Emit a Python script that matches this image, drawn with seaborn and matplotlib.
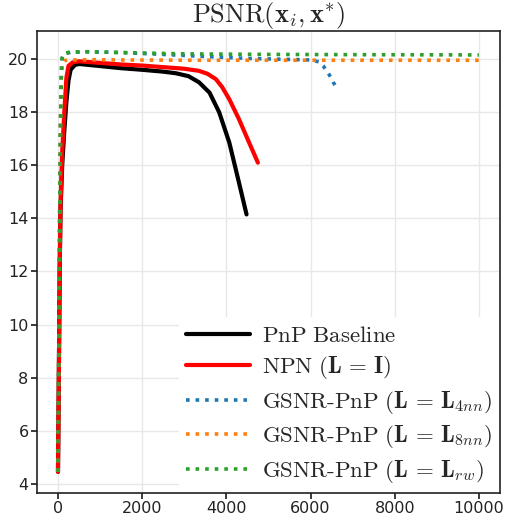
import matplotlib
matplotlib.use("Agg")
import matplotlib.pyplot as plt
import seaborn as sns
import numpy as np
import pandas as pd

# ---- data ----
pnp_x = [0, 20, 40, 60, 100, 150, 200, 250, 300, 400, 500, 750, 1000, 1500, 2000,
         2500, 2800, 3100, 3350, 3600, 3830, 4070, 4300, 4480]
pnp_y = [4.45, 8.0, 12.0, 14.3, 16.0, 17.3, 18.4, 19.2, 19.6, 19.78, 19.82, 19.78,
         19.74, 19.66, 19.6, 19.53, 19.47, 19.36, 19.13, 18.74, 18.0, 16.86, 15.35, 14.15]

npn_x = [0, 20, 40, 60, 100, 150, 200, 250, 350, 500, 1000, 1500, 2000, 2500, 3000,
         3350, 3550, 3750, 3900, 4070, 4300, 4540, 4750]
npn_y = [4.45, 8.0, 12.0, 14.5, 16.5, 18.0, 19.3, 19.75, 19.88, 19.92, 19.86, 19.8,
         19.76, 19.7, 19.64, 19.56, 19.45, 19.25, 18.95, 18.49, 17.74, 16.86, 16.1]

g4_x = [0, 20, 40, 60, 80, 100, 150, 300, 700, 1500, 2500, 3500, 4500, 5500, 6000,
        6200, 6300, 6450, 6550, 6650]
g4_y = [4.45, 9.0, 14.0, 17.5, 19.5, 20.05, 20.2, 20.26, 20.28, 20.25, 20.18, 20.1,
        20.03, 19.99, 19.97, 19.9, 19.75, 19.4, 19.1, 18.87]

g8_x = [0, 20, 40, 60, 80, 100, 150, 300, 700, 1500, 3000, 5000, 7000, 10000]
g8_y = [4.45, 9.0, 14.0, 17.5, 19.4, 19.85, 19.95, 19.97, 19.98, 19.97, 19.96, 19.96,
        19.96, 19.96]

grw_x = [0, 20, 40, 60, 80, 100, 150, 300, 700, 1500, 3000, 5000, 7000, 10000]
grw_y = [4.45, 9.0, 14.0, 17.5, 19.5, 20.1, 20.22, 20.27, 20.28, 20.25, 20.2, 20.18,
         20.17, 20.16]

labels = [r"$\mathrm{PnP\ Baseline}$",
          r"$\mathrm{NPN}\ (\mathbf{L}\,=\,\mathbf{I})$",
          r"$\mathrm{GSNR\text{-}PnP}\ (\mathbf{L}\,=\,\mathbf{L}_{4nn})$",
          r"$\mathrm{GSNR\text{-}PnP}\ (\mathbf{L}\,=\,\mathbf{L}_{8nn})$",
          r"$\mathrm{GSNR\text{-}PnP}\ (\mathbf{L}\,=\,\mathbf{L}_{rw})$"]
title = r"$\mathrm{PSNR}(\mathbf{x}_i,\mathbf{x}^{*})$"
xticks = [0, 2000, 4000, 6000, 8000, 10000]
yticks = [4, 6, 8, 10, 12, 14, 16, 18, 20]

series = [(pnp_x, pnp_y), (npn_x, npn_y), (g4_x, g4_y), (g8_x, g8_y), (grw_x, grw_y)]
colors = ["black", "#ff0000", "#1f77b4", "#ff7f0e", "#2ca02c"]
styles = ["-", "-", ":", ":", ":"]
widths = [3.0, 3.0, 2.6, 2.6, 2.6]

sns.set_theme(style="whitegrid", rc={
    "axes.edgecolor": "#222222",
    "axes.linewidth": 1.2,
    "grid.color": "#e8e8e8",
    "grid.linewidth": 1.0,
    "xtick.bottom": True,
    "ytick.left": True,
    "xtick.major.size": 4,
    "ytick.major.size": 4,
    "xtick.color": "#222222",
    "ytick.color": "#222222",
})
plt.rcParams["mathtext.fontset"] = "cm"
plt.rcParams["font.family"] = ["DejaVu Sans"]

fig = plt.figure(figsize=(5.06, 5.21), dpi=100)
ax = fig.add_axes([0.073, 0.054, 0.915, 0.887])

for (xs, ys), lab, c, ls, lw in zip(series, labels, colors, styles, widths):
    df = pd.DataFrame({"x": xs, "y": ys})
    sns.lineplot(data=df, x="x", y="y", ax=ax, color=c, linestyle=ls, linewidth=lw,
                 label=lab)

ax.set_xticks(xticks)
ax.set_yticks(yticks)
ax.tick_params(labelsize=11.5, pad=2)
ax.set_xlabel("")
ax.set_ylabel("")
ax.set_title(title, fontsize=19, pad=5)
ax.margins(x=0.05, y=0.05)

leg = ax.legend(loc="lower right", fontsize=16.5, frameon=True, framealpha=1.0,
                facecolor="white", edgecolor="none", handlelength=2.8,
                borderaxespad=0.05, borderpad=0.3, labelspacing=0.33,
                handletextpad=0.5)

fig.savefig("out.png", dpi=100)
